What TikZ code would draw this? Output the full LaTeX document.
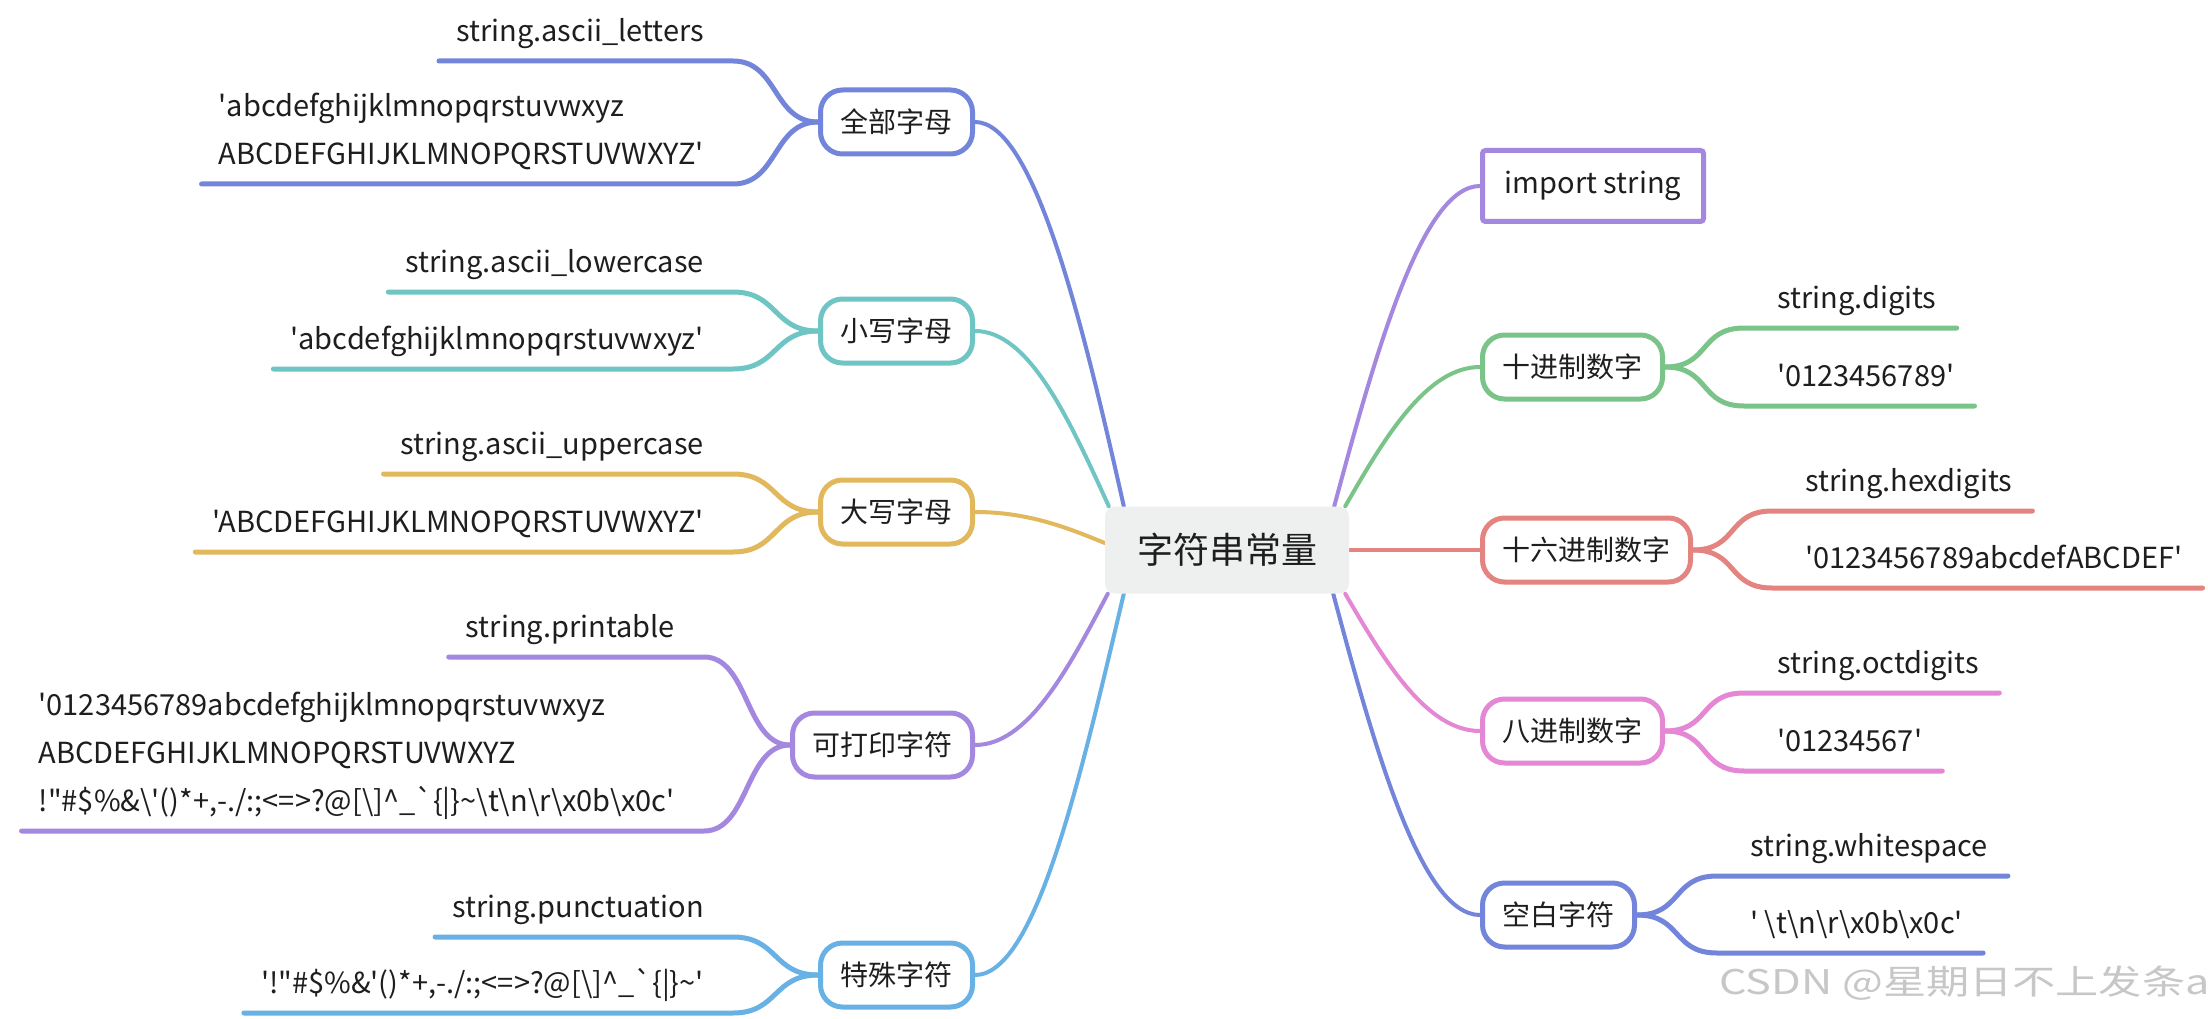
\documentclass[tikz,border=0pt]{standalone}
\usepackage{fontspec}
\setmainfont[Ligatures=TeXOff]{Noto Sans CJK SC}
\usepackage{tikz}
\usetikzlibrary{calc,backgrounds}
\definecolor{mmblue}{HTML}{7285DB}
\definecolor{mmteal}{HTML}{6EC5C4}
\definecolor{mmgold}{HTML}{E1B85B}
\definecolor{mmpurple}{HTML}{A487DF}
\definecolor{mmsky}{HTML}{67B1E4}
\definecolor{mmgreen}{HTML}{7AC489}
\definecolor{mmred}{HTML}{E48481}
\definecolor{mmpink}{HTML}{E487D5}
\definecolor{mmgray}{HTML}{EEF0EF}
\definecolor{mmink}{HTML}{1E1E1E}

\begin{document}
\begin{tikzpicture}[x=1pt,y=-1pt,
  root/.style={fill=mmgray, rounded corners=10pt, minimum width=244pt, minimum height=87pt,
    text=mmink, font=\fontsize{36}{40}\selectfont},
  topic/.style={draw=#1, line width=5pt, fill=white, rounded corners=22pt,
    minimum height=64pt, inner xsep=20pt, text=mmink, font=\fontsize{28}{34}\selectfont},
  codebox/.style={draw=#1, line width=5pt, fill=white, rounded corners=3pt,
    minimum width=221pt, minimum height=71pt, text=mmink, font=\fontsize{29}{34}\selectfont},
  leaf/.style={inner sep=0pt, text depth=0pt, align=left, text=mmink, font=\fontsize{29}{48}\selectfont},
  branch/.style={draw=#1, line width=4pt, line cap=round},
  twig/.style={draw=#1, line width=5pt, line cap=round},
  wmark/.style={text=black!22, font=\fontsize{34}{38}\selectfont, xscale=1.27, transform shape}]
  \useasboundingbox (0,0) rectangle (2208,1019);

  \node[root] (const) at (1227,550) {字符串常量};

  % left side
  \node[topic=mmblue, anchor=east] (letters) at (975,122) {全部字母};
  \node[leaf, anchor=south east] (letters1) at (704,42) {string.ascii\_letters};
  \node[leaf, anchor=south east] (letters2) at (704,165) {'abcdefghijklmnopqrstuvwxyz\\ABCDEFGHIJKLMNOPQRSTUVWXYZ'};

  \node[topic=mmteal, anchor=east] (lower) at (975,331) {小写字母};
  \node[leaf, anchor=south east] (lower1) at (704,273) {string.ascii\_lowercase};
  \node[leaf, anchor=south east] (lower2) at (704,350) {'abcdefghijklmnopqrstuvwxyz'};

  \node[topic=mmgold, anchor=east] (upper) at (975,512) {大写字母};
  \node[leaf, anchor=south east] (upper1) at (704,455) {string.ascii\_uppercase};
  \node[leaf, anchor=south east] (upper2) at (704,533) {'ABCDEFGHIJKLMNOPQRSTUVWXYZ'};

  \node[topic=mmpurple, anchor=east] (printable) at (975,745) {可打印字符};
  \node[leaf, anchor=south east] (printable1) at (675,638) {string.printable};
  \node[leaf, anchor=south east] (printable2) at (675,812) {'0123456789abcdefghijklmnopqrstuvwxyz\\ABCDEFGHIJKLMNOPQRSTUVWXYZ\\!"\#\$\%\&\textbackslash'()*+,-./:;<=>?@[\textbackslash]\textasciicircum\_`\{|\}\textasciitilde\textbackslash t\textbackslash n\textbackslash r\textbackslash x0b\textbackslash x0c'};

  \node[topic=mmsky, anchor=east] (punct) at (975,975) {特殊字符};
  \node[leaf, anchor=south east] (punct1) at (704,918) {string.punctuation};
  \node[leaf, anchor=south east] (punct2) at (704,994) {'!"\#\$\%\&'()*+,-./:;<=>?@[\textbackslash]\textasciicircum\_`\{|\}\textasciitilde'};

  % right side
  \node[codebox=mmpurple, anchor=west] (import) at (1480,186) {import string};

  \node[topic=mmgreen, anchor=west] (digits) at (1480,367) {十进制数字};
  \node[leaf, anchor=south west] (digits1) at (1777,309) {string.digits};
  \node[leaf, anchor=south west] (digits2) at (1777,387) {'0123456789'};

  \node[topic=mmred, anchor=west] (hexdig) at (1480,550) {十六进制数字};
  \node[leaf, anchor=south west] (hexdig1) at (1805,492) {string.hexdigits};
  \node[leaf, anchor=south west] (hexdig2) at (1805,569) {'0123456789abcdefABCDEF'};

  \node[topic=mmpink, anchor=west] (octdig) at (1480,731) {八进制数字};
  \node[leaf, anchor=south west] (octdig1) at (1777,674) {string.octdigits};
  \node[leaf, anchor=south west] (octdig2) at (1777,752) {'01234567'};

  \node[topic=mmblue, anchor=west] (white) at (1480,915) {空白字符};
  \node[leaf, anchor=south west] (white1) at (1750,857) {string.whitespace};
  \node[leaf, anchor=south west] (white2) at (1750,934) {' \textbackslash t\textbackslash n\textbackslash r\textbackslash x0b\textbackslash x0c'};

  \node[wmark, anchor=west] (csdn) at (1715,983) {CSDN @星期日不上发条a};

  \begin{scope}[on background layer]
    \fill[white] (0,0) rectangle (2208,1019);
    % branches from the root
    \draw[branch=mmblue] (letters.east) .. controls +(58,0) and +(-43,-192) .. ([xshift=19pt]const.north west);
    \draw[branch=mmteal] (lower.east) .. controls +(54,0) and +(-40,-88) .. ([xshift=4pt]const.north west);
    \draw[branch=mmgold] (upper.east) .. controls +(52,0) and +(-39,-16) .. ([yshift=7pt]const.west);
    \draw[branch=mmpurple] (printable.east) .. controls +(53,0) and +(-40,76) .. ([xshift=3pt]const.south west);
    \draw[branch=mmsky] (punct.east) .. controls +(60,0) and +(-45,191) .. ([xshift=19pt]const.south west);
    \draw[branch=mmpurple] (import.west) .. controls +(-57,0) and +(43,-160) .. ([xshift=-15pt]const.north east);
    \draw[branch=mmgreen] (digits.west) .. controls +(-53,0) and +(40,-70) .. ([xshift=-4pt]const.north east);
    \draw[branch=mmred] (hexdig.west) -- (const.east);
    \draw[branch=mmpink] (octdig.west) .. controls +(-53,0) and +(40,69) .. ([xshift=-4pt]const.south east);
    \draw[branch=mmblue] (white.west) .. controls +(-58,0) and +(43,161) .. ([xshift=-16pt]const.south east);
    % leaf underlines
    \draw[twig=mmblue] (letters.west) .. controls +(-45,0) and +(45,0) .. ($(letters1.south east)+(29,19)$) -- ($(letters1.south west)+(-17,19)$);
    \draw[twig=mmblue] (letters.west) .. controls +(-45,0) and +(45,0) .. ($(letters2.south east)+(29,19)$) -- ($(letters2.south west)+(-17,19)$);
    \draw[twig=mmteal] (lower.west) .. controls +(-45,0) and +(45,0) .. ($(lower1.south east)+(29,19)$) -- ($(lower1.south west)+(-17,19)$);
    \draw[twig=mmteal] (lower.west) .. controls +(-45,0) and +(45,0) .. ($(lower2.south east)+(29,19)$) -- ($(lower2.south west)+(-17,19)$);
    \draw[twig=mmgold] (upper.west) .. controls +(-45,0) and +(45,0) .. ($(upper1.south east)+(29,19)$) -- ($(upper1.south west)+(-17,19)$);
    \draw[twig=mmgold] (upper.west) .. controls +(-45,0) and +(45,0) .. ($(upper2.south east)+(29,19)$) -- ($(upper2.south west)+(-17,19)$);
    \draw[twig=mmpurple] (printable.west) .. controls +(-45,0) and +(45,0) .. ($(printable1.south east)+(29,19)$) -- ($(printable1.south west)+(-17,19)$);
    \draw[twig=mmpurple] (printable.west) .. controls +(-45,0) and +(45,0) .. ($(printable2.south east)+(29,19)$) -- ($(printable2.south west)+(-17,19)$);
    \draw[twig=mmsky] (punct.west) .. controls +(-45,0) and +(45,0) .. ($(punct1.south east)+(29,19)$) -- ($(punct1.south west)+(-17,19)$);
    \draw[twig=mmsky] (punct.west) .. controls +(-45,0) and +(45,0) .. ($(punct2.south east)+(29,19)$) -- ($(punct2.south west)+(-17,19)$);
    \draw[twig=mmgreen] (digits.east) .. controls +(45,0) and +(-45,0) .. ($(digits1.south west)+(-33,19)$) -- ($(digits1.south east)+(20,19)$);
    \draw[twig=mmgreen] (digits.east) .. controls +(45,0) and +(-45,0) .. ($(digits2.south west)+(-33,19)$) -- ($(digits2.south east)+(20,19)$);
    \draw[twig=mmred] (hexdig.east) .. controls +(45,0) and +(-45,0) .. ($(hexdig1.south west)+(-33,19)$) -- ($(hexdig1.south east)+(20,19)$);
    \draw[twig=mmred] (hexdig.east) .. controls +(45,0) and +(-45,0) .. ($(hexdig2.south west)+(-33,19)$) -- ($(hexdig2.south east)+(20,19)$);
    \draw[twig=mmpink] (octdig.east) .. controls +(45,0) and +(-45,0) .. ($(octdig1.south west)+(-33,19)$) -- ($(octdig1.south east)+(20,19)$);
    \draw[twig=mmpink] (octdig.east) .. controls +(45,0) and +(-45,0) .. ($(octdig2.south west)+(-33,19)$) -- ($(octdig2.south east)+(20,19)$);
    \draw[twig=mmblue] (white.east) .. controls +(45,0) and +(-45,0) .. ($(white1.south west)+(-33,19)$) -- ($(white1.south east)+(20,19)$);
    \draw[twig=mmblue] (white.east) .. controls +(45,0) and +(-45,0) .. ($(white2.south west)+(-33,19)$) -- ($(white2.south east)+(20,19)$);
  \end{scope}
\end{tikzpicture}
\end{document}
